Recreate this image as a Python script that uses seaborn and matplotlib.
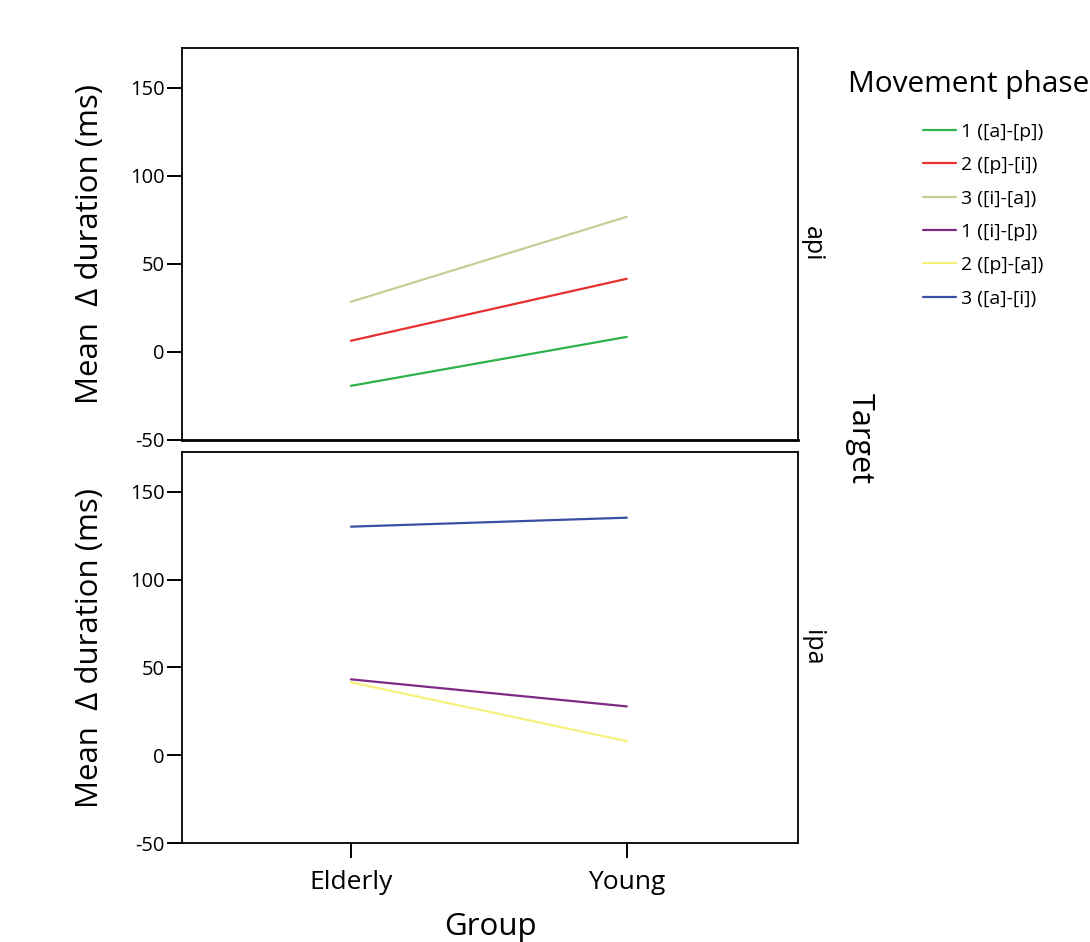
import pandas as pd
import seaborn as sns
import matplotlib.pyplot as plt

# values
groups = ['Elderly', 'Young']
api_phases = ['1 ([a]-[p])', '2 ([p]-[i])', '3 ([i]-[a])']
api_values = [[-19.3, 8.5], [6.3, 41.5], [28.4, 76.7]]
ipa_phases = ['1 ([i]-[p])', '2 ([p]-[a])', '3 ([a]-[i])']
ipa_values = [[43.2, 27.8], [41.5, 8.0], [130.1, 135.2]]
colors = ['#2eb34b', '#e8312f', '#cbcb98', '#7c2a84', '#f6f07c', '#3a4fa1']

rows = []
for phase, vals in zip(api_phases, api_values):
    for g, v in zip(groups, vals):
        rows.append({'Target': 'api', 'Phase': phase, 'Group': g, 'Mean': v})
for phase, vals in zip(ipa_phases, ipa_values):
    for g, v in zip(groups, vals):
        rows.append({'Target': 'ipa', 'Phase': phase, 'Group': g, 'Mean': v})
df = pd.DataFrame(rows)
df['x'] = df['Group'].map({g: i for i, g in enumerate(groups)})

palette = dict(zip(api_phases + ipa_phases, colors))

sns.set_style('white')
plt.rcParams['font.family'] = ['Open Sans', 'DejaVu Sans']
plt.rcParams['axes.unicode_minus'] = False
for k in ['text.color', 'axes.labelcolor', 'xtick.color', 'ytick.color']:
    plt.rcParams[k] = 'black'

fig = plt.figure(figsize=(10.9, 9.42), dpi=100)
ax_top = fig.add_axes([0.167, 0.533, 0.565, 0.416])
ax_bot = fig.add_axes([0.167, 0.105, 0.565, 0.415])

for ax, target in [(ax_top, 'api'), (ax_bot, 'ipa')]:
    sub = df[df['Target'] == target]
    sns.lineplot(data=sub, x='x', y='Mean', hue='Phase', palette=palette,
                 linewidth=1.6, ax=ax, legend=False)
    ax.set_xlim(-0.612, 1.62)
    ax.set_ylim(-50, 172.5)
    ax.set_yticks([-50, 0, 50, 100, 150])
    ax.tick_params(axis='y', direction='out', length=10.5, width=1.4, labelsize=14.5,
                   left=True, pad=2)
    for s in ax.spines.values():
        s.set_color('black')
        s.set_linewidth(1.3)
    ax.set_ylabel('Mean  \u0394 duration (ms)', fontsize=22.5, labelpad=18)
    ax.set_xlabel('')
    ax.text(1.003, 0.5, target, transform=ax.transAxes, rotation=-90,
            ha='left', va='center', fontsize=18)

ax_top.spines['bottom'].set_linewidth(2)
ax_top.set_xticks([])
ax_bot.set_xticks([0, 1])
ax_bot.set_xticklabels(groups)
ax_bot.tick_params(axis='x', direction='out', length=10.5, width=1.4, labelsize=19,
                   bottom=True, pad=9)
ax_bot.set_xlabel('Group', fontsize=22.5, labelpad=12)

fig.text(0.789, 0.535, 'Target', rotation=-90, ha='center', va='center', fontsize=22)
fig.text(0.778, 0.91, 'Movement phase', ha='left', va='center', fontsize=21.5)

handles = [plt.Line2D([], [], color=palette[p], linewidth=1.6)
           for p in api_phases + ipa_phases]
fig.legend(handles, api_phases + ipa_phases, loc='upper left',
           bbox_to_anchor=(0.8395, 0.878), frameon=False, fontsize=14,
           handlelength=1.7, handletextpad=0.25, labelspacing=0.79,
           borderaxespad=0)

plt.savefig('out.png', dpi=100)
plt.close()
